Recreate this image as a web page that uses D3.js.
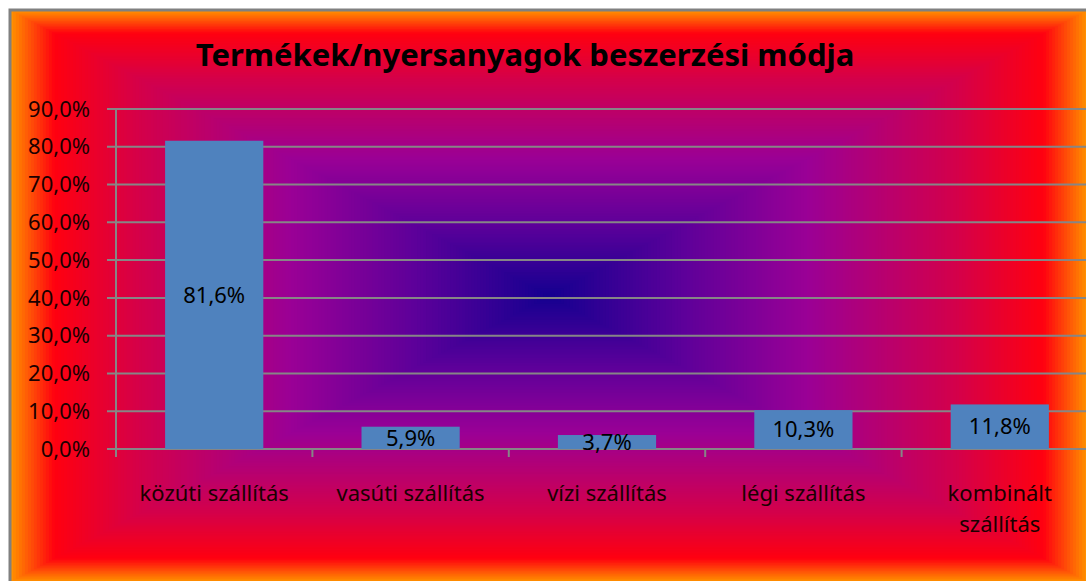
<!DOCTYPE html>
<html>
<head>
<meta charset="utf-8">
<script src="https://cdn.jsdelivr.net/npm/d3@7"></script>
<style>
  body { margin: 0; background: #fff; }
  svg { display: block; }
  text { font-family: "Noto Sans", "Open Sans", sans-serif; }
</style>
</head>
<body>
<div id="chart"></div>
<script>
// chart data
var categories = ["közúti szállítás", "vasúti szállítás", "vízi szállítás", "légi szállítás", "kombinált szállítás"];
var values = [81.6, 5.9, 3.7, 10.3, 11.8];
var yTicks = [0, 10, 20, 30, 40, 50, 60, 70, 80, 90];
var title = "Termékek/nyersanyagok beszerzési módja";

var width = 1086,
    height = 581;

var svg = d3.select("#chart")
            .append("svg")
            .attr("width", width)
            .attr("height", height);

// frame area
var fx = 10, fy = 10, fw = 1078, fh = 572;

// rectangular "from centre" gradient, done with nested rects
var steps = 180;
var bgColor = d3.scaleLinear()
    .domain([0, 0.08, 0.24, 0.52, 0.76, 1])
    .range(["#ff9000", "#ff0010", "#d4004a", "#9a0096", "#5a009a", "#140090"])
    .interpolate(d3.interpolateRgb);

svg.append("g").selectAll("rect")
    .data(d3.range(steps))
    .enter()
    .append("rect")
    .attr("x", function (i) { return fx + (i / steps) * fw / 2; })
    .attr("y", function (i) { return fy + (i / steps) * fh / 2; })
    .attr("width", function (i) { return fw * (1 - i / steps); })
    .attr("height", function (i) { return fh * (1 - i / steps); })
    .attr("fill", function (i) { return bgColor(i / steps); });

// grey chart border
svg.append("rect")
    .attr("x", fx)
    .attr("y", fy)
    .attr("width", fw + 10)
    .attr("height", fh + 10)
    .attr("fill", "none")
    .attr("stroke", "#808080")
    .attr("stroke-width", 3);

var plotLeft = 116,
    plotRight = 1098,
    plotTop = 109,
    plotBottom = 449;

var x = d3.scaleBand()
    .domain(categories)
    .range([plotLeft, plotRight])
    .paddingInner(0.5)
    .paddingOuter(0.25);

var y = d3.scaleLinear()
    .domain([0, 90])
    .range([plotBottom, plotTop]);

var pct = function (v) { return d3.format(".1f")(v).replace(".", ",") + "%"; };

// gridlines
svg.append("g").selectAll("line.grid")
    .data(yTicks)
    .enter()
    .append("line")
    .attr("class", "grid")
    .attr("x1", plotLeft - 9)
    .attr("x2", width)
    .attr("y1", function (d) { return y(d); })
    .attr("y2", function (d) { return y(d); })
    .attr("stroke", "#868686")
    .attr("stroke-width", 2);

// y axis line
svg.append("line")
    .attr("x1", plotLeft)
    .attr("x2", plotLeft)
    .attr("y1", plotTop)
    .attr("y2", plotBottom + 8)
    .attr("stroke", "#868686")
    .attr("stroke-width", 2);

// category tick marks
var step = x.step();
svg.append("g").selectAll("line.ctick")
    .data(d3.range(categories.length + 1))
    .enter()
    .append("line")
    .attr("x1", function (i) { return plotLeft + i * step; })
    .attr("x2", function (i) { return plotLeft + i * step; })
    .attr("y1", plotBottom)
    .attr("y2", plotBottom + 8)
    .attr("stroke", "#868686")
    .attr("stroke-width", 2);

// y tick labels
svg.append("g").selectAll("text.ylab")
    .data(yTicks)
    .enter()
    .append("text")
    .attr("x", 90)
    .attr("y", function (d) { return y(d); })
    .attr("dy", "0.35em")
    .attr("text-anchor", "end")
    .attr("font-size", 22)
    .attr("fill", "#1a0000")
    .text(function (d) { return pct(d); });

// bars
svg.append("g").selectAll("rect.bar")
    .data(values)
    .enter()
    .append("rect")
    .attr("class", "bar")
    .attr("x", function (d, i) { return x(categories[i]); })
    .attr("y", function (d) { return y(d); })
    .attr("width", x.bandwidth())
    .attr("height", function (d) { return y(0) - y(d); })
    .attr("fill", "#4f82be");

// value labels, centred in bar
svg.append("g").selectAll("text.val")
    .data(values)
    .enter()
    .append("text")
    .attr("x", function (d, i) { return x(categories[i]) + x.bandwidth() / 2; })
    .attr("y", function (d) { return (y(d) + y(0)) / 2; })
    .attr("dy", "0.35em")
    .attr("text-anchor", "middle")
    .attr("font-size", 22)
    .attr("fill", "#000")
    .text(function (d) { return d3.format(".1f")(d).replace(".", ",") + "%"; });

// category labels (wrap the long one)
var catText = svg.append("g").selectAll("text.cat")
    .data(categories)
    .enter()
    .append("text")
    .attr("x", function (d) { return x(d) + x.bandwidth() / 2; })
    .attr("y", 493)
    .attr("dy", "0.35em")
    .attr("text-anchor", "middle")
    .attr("font-size", 22)
    .attr("fill", "#1a0000");

catText.each(function (d) {
    var t = d3.select(this);
    var words = d.split(" ");
    if (d.length > 17) {
        words.forEach(function (w, k) {
            t.append("tspan")
             .attr("x", t.attr("x"))
             .attr("dy", k == 0 ? "0.35em" : 31)
             .text(w);
        });
        t.attr("dy", null);
    } else {
        t.text(d);
    }
});

// title
svg.append("text")
    .attr("x", 525)
    .attr("y", 55)
    .attr("dy", "0.35em")
    .attr("text-anchor", "middle")
    .attr("font-size", 31)
    .attr("font-weight", "bold")
    .attr("fill", "#000")
    .text(title);
</script>
</body>
</html>
